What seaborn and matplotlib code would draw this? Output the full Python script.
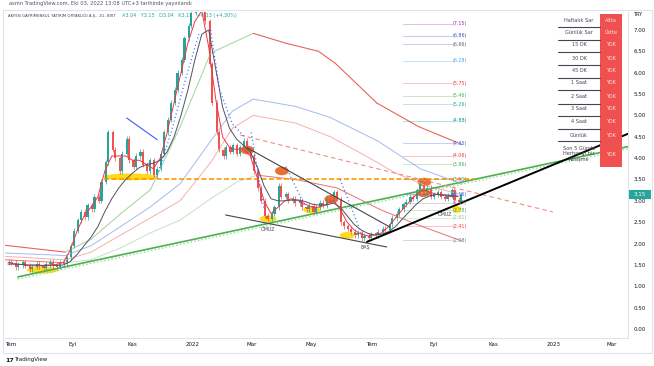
import pandas as pd
import matplotlib
matplotlib.use("Agg")
import matplotlib.pyplot as plt
import matplotlib.dates as mdates
from matplotlib.patches import Ellipse, Rectangle
import seaborn as sns

# --- price: two candles a week (Mon-Wed, Thu-Fri), closes
candle_start = "2021-06-28"
closes = [1.58, 1.55, 1.45, 1.50, 1.56, 1.48, 1.40, 1.46, 1.53, 1.47,
          1.44, 1.52, 1.58, 1.50, 1.46, 1.55, 1.52, 1.68, 1.95, 2.30,
          2.55, 2.75, 2.62, 2.90, 2.80, 3.10, 3.00, 3.45, 3.90, 4.60,
          4.20, 4.00, 3.70, 4.10, 4.45, 3.95, 3.80, 4.05, 4.15, 3.85,
          3.70, 3.95, 3.60, 3.75, 4.10, 4.60, 4.90, 5.30, 5.60, 6.00,
          6.30, 6.80, 7.10, 7.40, 7.70, 7.55, 7.80, 7.20, 6.20, 5.30,
          4.60, 4.20, 4.05, 4.25, 4.15, 4.30, 4.10, 4.25, 4.40, 4.20,
          4.05, 3.70, 3.30, 3.00, 2.65, 2.58, 2.70, 2.85, 3.35, 3.10,
          3.15, 3.00, 3.05, 2.95, 3.00, 2.85, 2.80, 2.88, 2.75, 2.85,
          2.95, 2.90, 3.05, 3.00, 3.20, 3.05, 2.50, 2.40, 2.35, 2.28,
          2.20, 2.25, 2.12, 2.18, 2.12, 2.22, 2.20, 2.28, 2.35, 2.32,
          2.45, 2.60, 2.70, 2.80, 2.92, 2.98, 3.10, 3.05, 3.25, 3.40,
          3.20, 3.30, 3.10, 3.15, 3.20, 3.10, 3.05, 3.12, 3.25, 3.02,
          2.98, 3.15]
first_open = 1.55

# weekly moving averages (Monday of each week)
ma_fast = [1.56, 1.52, 1.51, 1.48, 1.48, 1.48, 1.50, 1.51, 1.56, 1.85,
           2.30, 2.65, 2.85, 3.10, 3.70, 4.05, 4.05, 4.05, 3.95, 3.95,
           3.85, 3.75, 4.00, 4.60, 5.30, 6.00, 6.70, 7.20, 7.45, 6.60,
           5.40, 4.50, 4.25, 4.20, 4.22, 4.05, 3.55, 3.00, 2.70, 2.85,
           3.00, 3.05, 3.00, 2.92, 2.85, 2.85, 2.92, 3.02, 2.80, 2.50,
           2.32, 2.22, 2.18, 2.20, 2.25, 2.40, 2.60, 2.80, 2.98, 3.15,
           3.25, 3.20, 3.15, 3.12, 3.10, 3.10]
ma_slow = [1.52, 1.52, 1.51, 1.50, 1.50, 1.49, 1.49, 1.49, 1.50, 1.58,
           1.75, 1.95, 2.15, 2.40, 2.75, 3.05, 3.30, 3.50, 3.65, 3.78,
           3.85, 3.88, 3.95, 4.15, 4.50, 5.00, 5.60, 6.30, 6.90, 7.00,
           6.10, 5.20, 4.70, 4.45, 4.30, 4.15, 3.80, 3.35, 3.05, 3.00,
           3.00, 3.02, 3.02, 2.98, 2.92, 2.90, 2.90, 2.95, 2.85, 2.65,
           2.45, 2.32, 2.24, 2.20, 2.22, 2.28, 2.40, 2.58, 2.75, 2.92,
           3.05, 3.12, 3.15, 3.14, 3.12, 3.11]

# long envelope lines
env_top_dates = ["2021-06-25", "2021-08-25", "2021-09-20", "2021-10-20", "2021-11-19",
                 "2021-12-19", "2022-01-19", "2022-03-03", "2022-04-05", "2022-05-08",
                 "2022-05-25", "2022-07-06", "2022-08-17", "2022-09-30"]
env_top_vals = [1.96, 1.80, 2.10, 2.70, 3.26, 4.73, 6.46, 6.92, 6.69, 6.50, 6.22, 5.29, 4.74, 4.32]
env_blue_dates = ["2021-06-25", "2021-08-25", "2021-09-20", "2021-10-20", "2021-11-19",
                  "2021-12-19", "2022-01-19", "2022-02-10", "2022-03-03", "2022-04-15",
                  "2022-05-20", "2022-07-07", "2022-08-19", "2022-09-30"]
env_blue_vals = [1.78, 1.72, 1.95, 2.40, 2.86, 3.40, 4.40, 5.10, 5.38, 5.21, 4.95, 4.40, 3.75, 3.40]
env_red_dates = ["2021-06-25", "2021-08-25", "2021-09-20", "2021-10-20", "2021-11-19",
                 "2021-12-19", "2022-01-19", "2022-02-10", "2022-03-03", "2022-04-15",
                 "2022-05-20", "2022-06-25", "2022-07-25", "2022-08-25", "2022-09-30"]
env_red_vals = [1.70, 1.62, 1.80, 2.20, 2.60, 3.00, 3.90, 4.70, 5.00, 4.82, 4.50, 4.05, 3.65, 3.35, 3.15]
env_low_dates = ["2021-06-25", "2021-08-25", "2021-09-20", "2021-10-20", "2021-11-19",
                 "2021-12-19", "2022-01-19", "2022-02-15", "2022-03-07", "2022-04-15",
                 "2022-05-27", "2022-07-09", "2022-08-15", "2022-09-30"]
env_low_vals = [1.62, 1.55, 1.62, 1.90, 2.25, 2.55, 3.05, 3.45, 3.60, 3.50, 3.30, 2.80, 2.45, 2.06]

# parabolic sar pieces
sar_dates = [["2021-11-26", "2021-12-10", "2021-12-24", "2022-01-07"],
             ["2022-01-19", "2022-01-28", "2022-02-10", "2022-02-22"],
             ["2022-03-01", "2022-03-14"],
             ["2022-04-05", "2022-04-26"],
             ["2022-05-30", "2022-06-21"]]
sar_vals = [[3.6, 4.6, 5.8, 6.9], [7.0, 5.6, 4.8, 4.5], [4.6, 2.8], [3.8, 2.8], [3.5, 2.2]]
blue_seg_dates = ["2021-10-26", "2021-11-26"]
blue_seg_vals = [4.94, 4.43]

# drawn trend lines
green_trend = (["2021-07-08", "2023-03-17"], [1.22, 4.27])
black_trend = (["2022-06-26", "2023-03-17"], [2.04, 4.57])
lower_trend = (["2022-02-03", "2022-07-16"], [2.67, 1.92])
upper_trend = (["2022-02-25", "2022-07-19"], [4.24, 2.39])
red_dash = (["2022-02-18", "2022-12-31"], [4.54, 2.74])
orange_level = (["2021-10-03", "2022-10-12"], [3.50, 3.50])

# fibonacci levels
fib_vals = [7.15, 6.86, 6.66, 6.28, 5.75, 5.46, 5.26, 4.88, 4.35, 4.06, 3.86,
            3.50, 3.16, 2.95, 2.78, 2.61, 2.41, 2.08]
fib_colors = ["#9c27b0", "#3f51b5", "#5d606b", "#42a5f5", "#f23645", "#4caf50",
              "#26a69a", "#009688", "#2962ff", "#f23645", "#4caf50", "#787b86",
              "#2962ff", "#787b86", "#4caf50", "#81c784", "#f23645", "#787b86"]
fib_span = ["2022-08-01", "2022-09-20"]

# highlight marks
yellow_dates = ["2021-08-02", "2021-10-30", "2022-03-18", "2022-05-01", "2022-06-06", "2022-09-25"]
yellow_vals = [1.38, 3.56, 2.58, 2.79, 2.19, 2.80]
yellow_widths = [32, 55, 17, 17, 15, 9]
orange_dates = ["2022-02-25", "2022-04-01", "2022-05-21", "2022-08-23", "2022-08-22"]
orange_vals = [4.19, 3.70, 3.04, 3.44, 3.19]
pattern_labels = ["OMUZ", "BAŞ", "OMUZ"]
pattern_dates = ["2022-03-18", "2022-06-24", "2022-09-13"]
pattern_vals = [2.33, 1.90, 2.68]

table_labels = ["Haftalık Sar", "Günlük Sar", "15 DK", "30 DK", "45 DK", "1 Saat",
                "2 Saat", "3 Saat", "4 Saat", "Günlük"]
table_values = ["Altta", "Üstte", "YOK", "YOK", "YOK", "YOK", "YOK", "YOK", "YOK", "YOK"]

month_dates = ["2021-07-01", "2021-09-01", "2021-11-01", "2022-01-01", "2022-03-01", "2022-05-01",
               "2022-07-01", "2022-09-01", "2022-11-01", "2023-01-01", "2023-03-01"]
month_labels = ["Tem", "Eyl", "Kas", "2022", "Mar", "May", "Tem", "Eyl", "Kas", "2023", "Mar"]

# ---------------------------------------------------------------
sns.set_theme(style="white")
plt.rcParams["font.family"] = ["DejaVu Sans"]

W, H = 654, 366
fig = plt.figure(figsize=(W / 100, H / 100), dpi=100)
ax = fig.add_axes([5 / W, 1 - 338 / H, 623 / W, 326 / H])


def fp(x, y):
    return x / W, 1 - y / H


def line(dates, vals, **kw):
    sns.lineplot(x=pd.to_datetime(dates), y=vals, ax=ax, sort=False, legend=False, **kw)


def slope_line(dates, vals, up, down, lw):
    d = pd.to_datetime(dates)
    for i in range(len(vals) - 1):
        c = up if vals[i + 1] >= vals[i] else down
        line(d[i:i + 2], vals[i:i + 2], color=c, lw=lw)


# envelopes
slope_line(env_top_dates, env_top_vals, "#a9d8ab", "#e9645c", 0.8)
line(env_blue_dates, env_blue_vals, color="#a6b9ef", lw=0.7)
line(env_red_dates, env_red_vals, color="#f6b0ad", lw=0.7)
slope_line(env_low_dates, env_low_vals, "#c3e2c3", "#e57373", 0.7)

# trend lines behind price
line(*green_trend, color="#4caf50", lw=1.2)
line(green_trend[0], [v - 0.05 for v in green_trend[1]], color="#9ad69d", lw=1.0, linestyle=":")
line(*orange_level, color="#ff9800", lw=1.2, linestyle=(0, (3, 1.5)))
line(*red_dash, color="#f28b82", lw=0.8, linestyle=(0, (4, 3)))

# fib levels
f0, f1 = pd.to_datetime(fib_span)
for v, c in zip(fib_vals, fib_colors):
    line([f0, f1], [v, v], color=c, lw=0.6, alpha=0.35)
    ax.text(f1 + pd.Timedelta(days=1), v, f"({v:.2f})", color=c, fontsize=3.4,
            va="center", ha="left")

# yellow and orange highlights
for d, v, w in zip(pd.to_datetime(yellow_dates), yellow_vals, yellow_widths):
    ax.add_patch(Ellipse((mdates.date2num(d), v), w, 0.16, color="#ffd600", alpha=0.9, lw=0))

# candles
starts = pd.date_range(candle_start, periods=len(closes) // 2, freq="7D")
cdates = []
for s in starts:
    cdates += [s + pd.Timedelta(days=1), s + pd.Timedelta(days=3.5)]
opens = [first_open] + closes[:-1]
for d, o, c in zip(cdates, opens, closes):
    col = "#26a69a" if c >= o else "#ef5350"
    h = c - o if abs(c - o) > 0.03 else 0.03
    ax.bar(d, h, bottom=o, width=2.2, color=col, lw=0)
    ax.vlines(d, min(o, c) - 0.06, max(o, c) + 0.06, color=col, lw=0.5)

# moving averages
wk = pd.date_range(candle_start, periods=len(ma_fast), freq="7D")
line(wk, ma_fast, color="#f23645", lw=0.7)
line(wk, ma_slow, color="#50535e", lw=0.7)
for d, v in zip(sar_dates, sar_vals):
    line(d, v, color="#2962ff", lw=0.9, linestyle=(0, (0.8, 2.2)))
line(blue_seg_dates, blue_seg_vals, color="#3d5afe", lw=0.8)

# drawn trend lines on top
line(*lower_trend, color="#434651", lw=0.8)
line(*upper_trend, color="#434651", lw=0.8)
line(*black_trend, color="#000000", lw=1.4)

for d, v in zip(pd.to_datetime(orange_dates), orange_vals):
    ax.add_patch(Ellipse((mdates.date2num(d), v), 14, 0.2, color="#e8601c", alpha=0.9, lw=0))

for t, d, v in zip(pattern_labels, pd.to_datetime(pattern_dates), pattern_vals):
    ax.text(d, v, t, fontsize=3.4, color="#434651", ha="center", va="center")

# axes
ax.set_xlim(pd.Timestamp("2021-06-25"), pd.Timestamp("2023-03-17"))
ax.set_ylim(-0.21, 7.42)
ax.set_xlabel("")
ax.set_ylabel("")
ax.yaxis.tick_right()
ax.set_yticks([i * 0.5 for i in range(15)])
ax.set_yticklabels([f"{i * 0.5:.2f}" for i in range(15)])
ax.set_xticks(pd.to_datetime(month_dates))
ax.set_xticklabels(month_labels)
ax.tick_params(axis="both", length=0, labelsize=4, colors="#131722")
ax.tick_params(axis="y", pad=4)
ax.tick_params(axis="x", pad=3)
for side in ["left", "top"]:
    ax.spines[side].set_visible(False)
for side in ["bottom", "right"]:
    ax.spines[side].set_color("#e0e3eb")
    ax.spines[side].set_linewidth(0.8)
ax.grid(False)

# outer frame
fig.patches.append(Rectangle(fp(3, 353), 649 / W, 343 / H, transform=fig.transFigure,
                             fill=False, ec="#e0e3eb", lw=0.8))

# header texts
fig.text(*fp(9, 4), "asmn TradingView.com, Eki 03, 2022 13:08 UTC+3 tarihinde yayınlandı",
         fontsize=3.7, color="#50535e", va="center")
fig.text(*fp(8, 16), "AKFEN GAYRIMENKUL YATIRIM ORTAKLIĞI A.Ş., 1G, BIST",
         fontsize=2.8, color="#434651", va="center")
fig.text(*fp(122, 16), "A3.04   Y3.15   D3.04   K3.15   +0.13 (+4.30%)",
         fontsize=3.5, color="#26a69a", va="center")
fig.text(*fp(633, 15), "TRY", fontsize=3.6, color="#131722", va="center")

# last price badge
fig.patches.append(Rectangle(fp(629, 199), 22 / W, 9 / H, transform=fig.transFigure,
                             color="#26a69a", lw=0))
fig.text(*fp(640, 194.5), "3.15", fontsize=4, color="white", ha="center", va="center")

# status table
fig.patches.append(Rectangle(fp(600, 167), 22 / W, 153 / H, transform=fig.transFigure,
                             color="#f0504f", lw=0))
row_y = [20, 33, 45, 58, 71, 83, 97, 109, 122, 135]
for y, lab, val in zip(row_y, table_labels, table_values):
    fig.text(*fp(579, y), lab, fontsize=3.6, color="#434651", ha="center", va="center")
    fig.text(*fp(611, y), val, fontsize=3.6, color="#ffe0e0", ha="center", va="center")
    fig.lines.append(plt.Line2D([558 / W, 600 / W], [1 - (y + 6.5) / H] * 2,
                                transform=fig.transFigure, color="#434651", lw=0.8))
fig.text(*fp(579, 154), "Son 5 Günde\nHerhangi bir\nKesişme", fontsize=3.6, color="#434651",
         ha="center", va="center", linespacing=1.0)
fig.text(*fp(611, 154), "YOK", fontsize=3.6, color="#ffe0e0", ha="center", va="center")

# logo
fig.text(*fp(5, 360), "17", fontsize=4.5, color="#131722", weight="bold", va="center")
fig.text(*fp(14, 360), "TradingView", fontsize=4, color="#131722", va="center")

fig.savefig("out.png", dpi=100)
